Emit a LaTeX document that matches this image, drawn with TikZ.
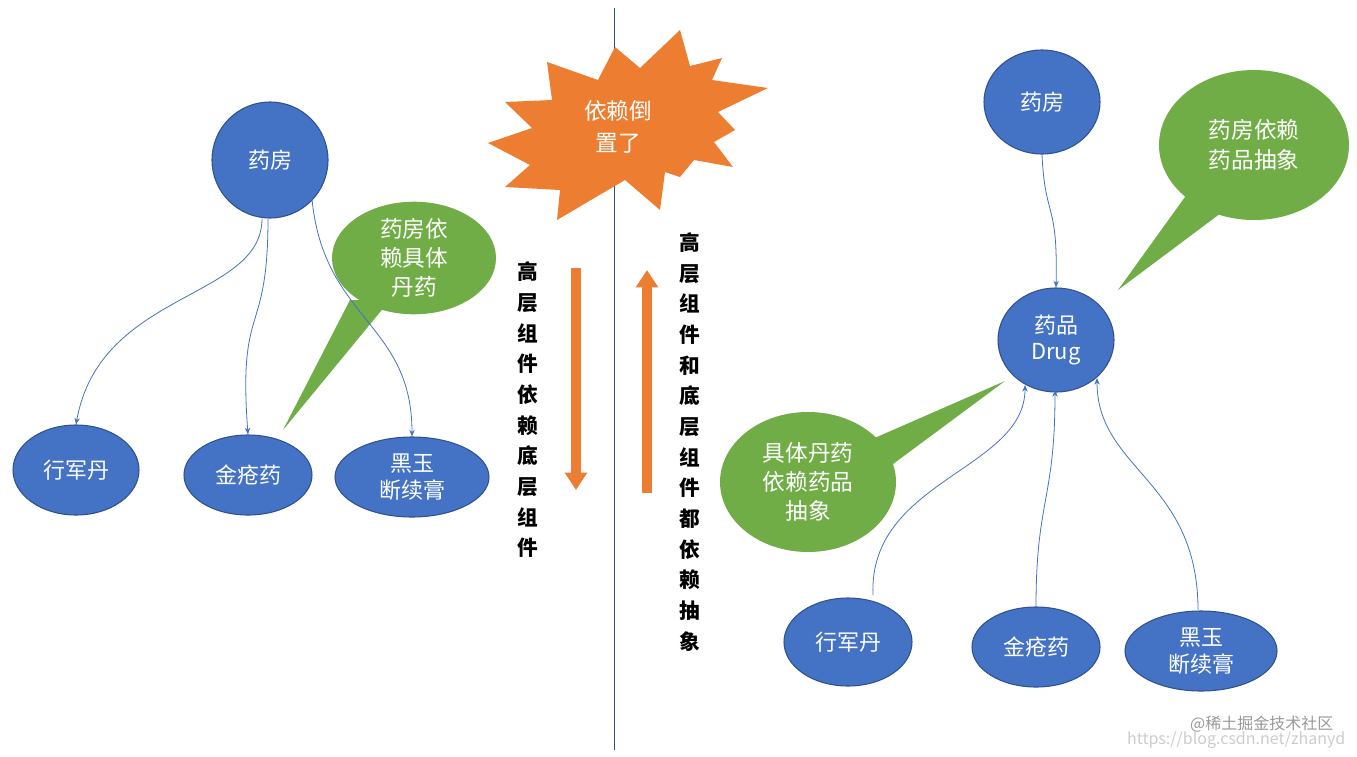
\documentclass[tikz,border=0pt]{standalone}
\usepackage{fontspec}
\setmainfont{Noto Sans CJK SC}
\usetikzlibrary{shapes.geometric,arrows.meta}
\definecolor{nblue}{HTML}{4472C4}
\definecolor{nborder}{HTML}{2F528F}
\definecolor{ngreen}{HTML}{70AD47}
\definecolor{norange}{HTML}{ED7D31}
\tikzset{
 bnode/.style={ellipse,fill=nblue,draw=nborder,line width=0.8pt,text=white,font=\fontsize{16.5}{20}\selectfont,align=center,inner sep=0pt},
 conn/.style={draw=nblue,line width=0.6pt,-{Stealth[length=5pt,width=4pt]}},
 gtext/.style={text=white,font=\fontsize{17}{22}\selectfont,align=center},
 vtext/.style={font=\bfseries\fontsize{15.5}{23}\selectfont,align=center,text=black},
 bigarrow/.style={draw=norange,line width=7pt,-{Triangle[length=13pt,width=16pt]}}
}
\begin{document}
\begin{tikzpicture}[x=0.75pt,y=-0.75pt]
\useasboundingbox (0,0) rectangle (1357,757);
% divider
\draw[nborder,line width=0.7pt] (614,8) -- (614,750);
% star
\fill[norange] (488,143) -- (532,128) -- (505,102) -- (552,100) -- (547,62) -- (598,80) -- (615,47) -- (640,68) -- (680,30) -- (690,66) -- (722,58) -- (712,80) -- (768,88) -- (718,112) -- (735,130) -- (714,142) -- (733,167) -- (694,160) -- (680,177) -- (665,172) -- (660,210) -- (625,180) -- (557,220) -- (560,190) -- (505,187) -- (530,165) -- cycle;
\node[gtext,font=\fontsize{17}{24}\selectfont] (star) at (618,127) {依赖倒\\置了};
% left side
\node[bnode,minimum width=116pt*0.75,minimum height=116pt*0.75] (yf1) at (270,160) {药房};
\node[bnode,minimum width=126pt*0.75,minimum height=90pt*0.75] (x1) at (76,470) {行军丹};
\node[bnode,minimum width=128pt*0.75,minimum height=80pt*0.75] (j1) at (248,475) {金疮药};
\node[bnode,minimum width=154pt*0.75,minimum height=80pt*0.75] (h1) at (412,477) {黑玉\\断续膏};
\coordinate (t1) at (283,430);
\fill[ngreen] (t1) -- (350,300) -- (390,300) -- cycle;
\node[ellipse,fill=ngreen,minimum width=164pt*0.75,minimum height=110pt*0.75,gtext,inner sep=0pt] (c1) at (414,258) {药房依\\赖具体\\丹药};
\draw[conn] (yf1.south) ++(-8,0) coordinate (a1) (a1) .. controls (262,300) and (100,290) .. (x1.north);
\draw[conn] (yf1.south) ++(-2,0) coordinate (a2) (a2) .. controls (268,340) and (238,300) .. (j1.north);
\draw[conn] (yf1.south east) ++(0,-10) coordinate (a3) (a3) .. controls (320,320) and (412,320) .. (h1.north);
% vertical texts
\node[vtext] (v1) at (528,410) {高\\层\\组\\件\\依\\赖\\底\\层\\组\\件};
\coordinate (d1) at (576,268); \coordinate (d2) at (576,490);
\draw[bigarrow] (d1) -- (d2);
\coordinate (u1) at (647,493); \coordinate (u2) at (647,270);
\draw[bigarrow] (u1) -- (u2);
\node[vtext] (v2) at (690,442) {高\\层\\组\\件\\和\\底\\层\\组\\件\\都\\依\\赖\\抽\\象};
% right side
\node[bnode,minimum width=116pt*0.75,minimum height=104pt*0.75] (yf2) at (1042,102) {药房};
\node[bnode,minimum width=116pt*0.75,minimum height=104pt*0.75] (dr) at (1056,340) {药品\\Drug};
\node[bnode,minimum width=128pt*0.75,minimum height=88pt*0.75] (x2) at (848,642) {行军丹};
\node[bnode,minimum width=128pt*0.75,minimum height=80pt*0.75] (j2) at (1036,647) {金疮药};
\node[bnode,minimum width=152pt*0.75,minimum height=80pt*0.75] (h2) at (1201,651) {黑玉\\断续膏};
\coordinate (t2) at (1118,290);
\fill[ngreen] (t2) -- (1190,190) -- (1225,210) -- cycle;
\node[ellipse,fill=ngreen,minimum width=190pt*0.75,minimum height=150pt*0.75,gtext,inner sep=0pt] (c2) at (1254,145) {药房依赖\\药品抽象};
\coordinate (t3) at (1005,381);
\fill[ngreen] (t3) -- (870,440) -- (885,470) -- cycle;
\node[ellipse,fill=ngreen,minimum width=176pt*0.75,minimum height=140pt*0.75,gtext,inner sep=0pt] (c3) at (808,482) {具体丹药\\依赖药品\\抽象};
\draw[conn] (yf2.south) .. controls (1045,220) and (1058,200) .. (dr.north);
\coordinate (e1) at (873,595);
\draw[conn] (e1) .. controls (868,480) and (1025,470) .. (1025,385);
\draw[conn] (j2.north) .. controls (1036,500) and (1055,500) .. (1055,390);
\coordinate (e3) at (1198,610);
\draw[conn] (e3) .. controls (1198,480) and (1097,470) .. (1097,378);
% watermark
\node[text=gray!80,font=\fontsize{12}{14}\selectfont,anchor=east] (w1) at (1338,724) {@稀土掘金技术社区};
\node[text=gray!40,font=\fontsize{12}{14}\selectfont,anchor=east] (w2) at (1350,740) {https://blog.csdn.net/zhanyd};
\end{tikzpicture}
\end{document}
